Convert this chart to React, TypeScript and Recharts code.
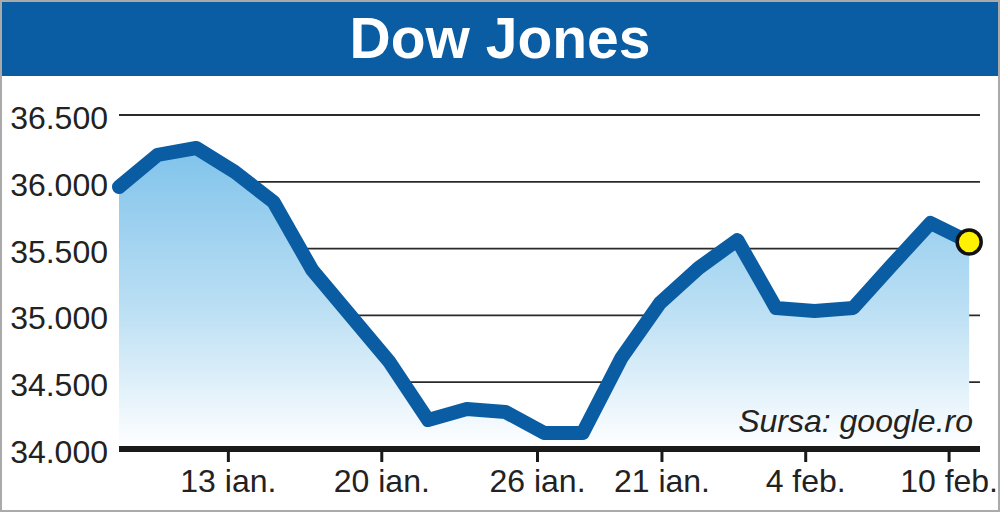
import React from "react"
import { ComposedChart, Area, Line, XAxis, YAxis, CartesianGrid } from "recharts"

// closing values, one per trading session
const values = [
  35961, 36201, 36253, 36073, 35849, 35340, 34996, 34651, 34217, 34299, 34277, 34120,
  34120, 34681, 35093, 35355, 35564, 35056, 35033, 35056, 35377, 35692, 35549,
]
const yTicks = [34000, 34500, 35000, 35500, 36000, 36500]
const xTickPos = [2.83, 6.8, 10.83, 14.05, 17.77, 21.48]
const xTickLabels = ["13 ian.", "20 ian.", "26 ian.", "21 ian.", "4 feb.", "10 feb."]

const chartData = values.map((v, i) => ({ i, v }))

const FONT = "'Liberation Sans', Arial, sans-serif"
const BLUE = "#0a5ca3"

const fmtThousands = (n: number) => n.toLocaleString("de-DE")

function YTick(props: any) {
  const { y, payload } = props
  return (
    <text x={108} y={y + 14} textAnchor="end" fontSize={32} fill="#222" fontFamily={FONT}>
      {fmtThousands(payload.value)}
    </text>
  )
}

function LastDot(props: any) {
  const { cx, cy, index } = props
  if (index !== values.length - 1) return <g key={index} />
  return <circle key={index} cx={cx} cy={cy} r={12} fill="#fff200" stroke="#111" strokeWidth={3.5} />
}

export default function App() {
  return (
    <div
      style={{
        position: "fixed",
        left: 0,
        top: 0,
        width: 1000,
        height: 512,
        background: "#fff",
        boxSizing: "border-box",
        border: "2px solid #aaa",
        overflow: "hidden",
        fontFamily: FONT,
      }}
    >
      <ComposedChart
        width={1000}
        height={512}
        data={chartData}
        margin={{ top: 115, right: 20, left: 6, bottom: 0 }}
        style={{ position: "absolute", left: -2, top: -2 }}
      >
        <defs>
          <linearGradient id="areaFill" x1="0" y1="0" x2="0" y2="1">
            <stop offset="0%" stopColor="#80c3eb" />
            <stop offset="55%" stopColor="#bde0f4" />
            <stop offset="100%" stopColor="#ffffff" />
          </linearGradient>
        </defs>
        <CartesianGrid vertical={false} stroke="#2a2a2a" strokeWidth={1.8} />
        <XAxis
          dataKey="i"
          type="number"
          domain={[0, 22.28]}
          ticks={xTickPos}
          tickFormatter={(v: number) => xTickLabels[xTickPos.indexOf(v)]}
          axisLine={{ stroke: "#1a1a1a", strokeWidth: 6 }}
          tickLine={{ stroke: "#1a1a1a", strokeWidth: 3 }}
          tickSize={13}
          tickMargin={7}
          height={63}
          tick={{ fontSize: 32, fill: "#222", fontFamily: FONT }}
          interval={0}
        />
        <YAxis
          type="number"
          domain={[34000, 36500]}
          ticks={yTicks}
          width={113}
          axisLine={false}
          tickLine={false}
          tick={<YTick />}
          interval={0}
        />
        <Area
          type="linear"
          dataKey="v"
          stroke="none"
          fill="url(#areaFill)"
          fillOpacity={1}
          isAnimationActive={false}
        />
        <Line
          type="linear"
          dataKey="v"
          stroke={BLUE}
          strokeWidth={14}
          strokeLinecap="round"
          strokeLinejoin="round"
          dot={LastDot}
          activeDot={false}
          isAnimationActive={false}
        />
      </ComposedChart>
      <div
        style={{
          position: "absolute",
          left: -2,
          top: -2,
          width: 1000,
          height: 76,
          background: BLUE,
          color: "#fff",
          fontWeight: "bold",
          fontSize: 57,
          lineHeight: "76px",
          textAlign: "center",
        }}
      >
        Dow Jones
      </div>
      <div
        style={{
          position: "absolute",
          right: 25,
          top: 399,
          fontSize: 32,
          fontStyle: "italic",
          color: "#222",
          lineHeight: "40px",
        }}
      >
        Sursa: google.ro
      </div>
    </div>
  )
}
